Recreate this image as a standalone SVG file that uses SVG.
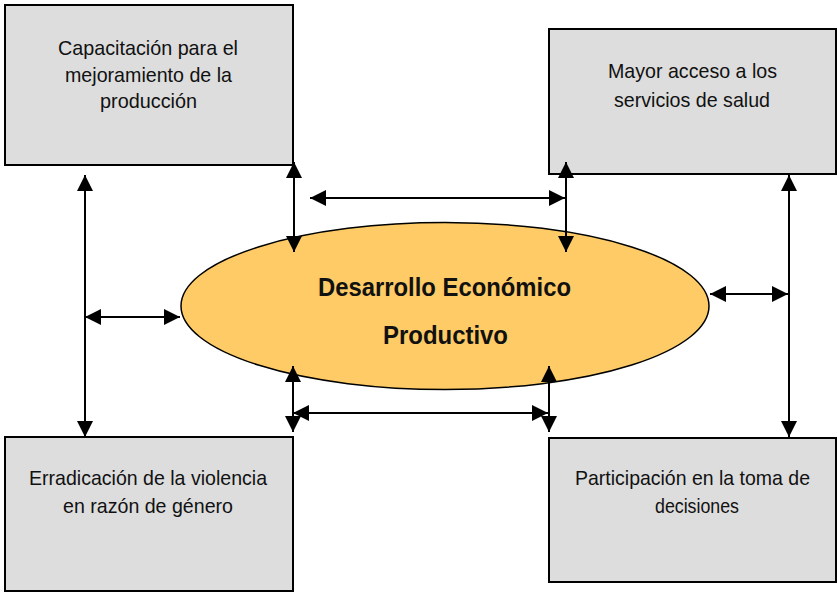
<svg xmlns="http://www.w3.org/2000/svg" width="837" height="592" viewBox="0 0 837 592">
<style>
.box{fill:#dddddd;stroke:#000;stroke-width:2}
.t{font-family:"Liberation Sans Narrow","Arial Narrow","Liberation Sans",Arial,sans-serif;font-size:21px;fill:#111}
.b{font-family:"Liberation Sans Narrow","Arial Narrow","Liberation Sans",Arial,sans-serif;font-size:25px;font-weight:bold;fill:#111}
.c{stroke:#000;stroke-width:2;fill:none;marker-start:url(#ah);marker-end:url(#ah)}
</style>
<defs>
<marker id="ah" markerUnits="userSpaceOnUse" markerWidth="16" markerHeight="16" viewBox="0 0 14 14" refX="14" refY="7" orient="auto-start-reverse">
<path d="M0,0 L14,7 L0,14 Z" fill="#000"/>
</marker>
</defs>
<rect width="837" height="592" fill="#fff"/>
<g id="n-capacitacion">
<rect class="box" x="5" y="5" width="288" height="160"/>
<text class="t" x="58" y="55" textLength="180" lengthAdjust="spacingAndGlyphs">Capacitación para el</text>
<text class="t" x="65" y="82" textLength="167" lengthAdjust="spacingAndGlyphs">mejoramiento de la</text>
<text class="t" x="100" y="108" textLength="97" lengthAdjust="spacingAndGlyphs">producción</text>
</g>
<g id="n-salud">
<rect class="box" x="549" y="29" width="287" height="145"/>
<text class="t" x="608" y="78" textLength="169" lengthAdjust="spacingAndGlyphs">Mayor acceso a los</text>
<text class="t" x="614" y="107" textLength="156" lengthAdjust="spacingAndGlyphs">servicios de salud</text>
</g>
<g id="n-violencia">
<rect class="box" x="5" y="437" width="288" height="154"/>
<text class="t" x="29" y="485" textLength="238" lengthAdjust="spacingAndGlyphs">Erradicación de la violencia</text>
<text class="t" x="63" y="513" textLength="170" lengthAdjust="spacingAndGlyphs">en razón de género</text>
</g>
<g id="n-participacion">
<rect class="box" x="549" y="438" width="287" height="144"/>
<text class="t" x="575" y="485" textLength="235" lengthAdjust="spacingAndGlyphs">Participación en la toma de</text>
<text class="t" x="655" y="513" textLength="84" lengthAdjust="spacingAndGlyphs">decisiones</text>
</g>
<g id="n-desarrollo">
<ellipse cx="445" cy="306" rx="264" ry="83.5" fill="#fecb66" stroke="#000" stroke-width="1.5"/>
<text class="b" x="318" y="296" textLength="253" lengthAdjust="spacingAndGlyphs">Desarrollo Económico</text>
<text class="b" x="383" y="344" textLength="125" lengthAdjust="spacingAndGlyphs">Productivo</text>
</g>
<g id="connectors">
<line class="c" x1="85" y1="175" x2="85" y2="437"/>
<line class="c" x1="85" y1="317" x2="180" y2="317"/>
<line class="c" x1="294" y1="162" x2="294" y2="252"/>
<line class="c" x1="310" y1="198" x2="565" y2="198"/>
<line class="c" x1="566" y1="162" x2="566" y2="252"/>
<line class="c" x1="789" y1="175" x2="789" y2="437"/>
<line class="c" x1="710" y1="294" x2="788" y2="294"/>
<line class="c" x1="293" y1="366" x2="293" y2="432"/>
<line class="c" x1="293" y1="413" x2="548" y2="413"/>
<line class="c" x1="549" y1="366" x2="549" y2="432"/>
</g>
</svg>
